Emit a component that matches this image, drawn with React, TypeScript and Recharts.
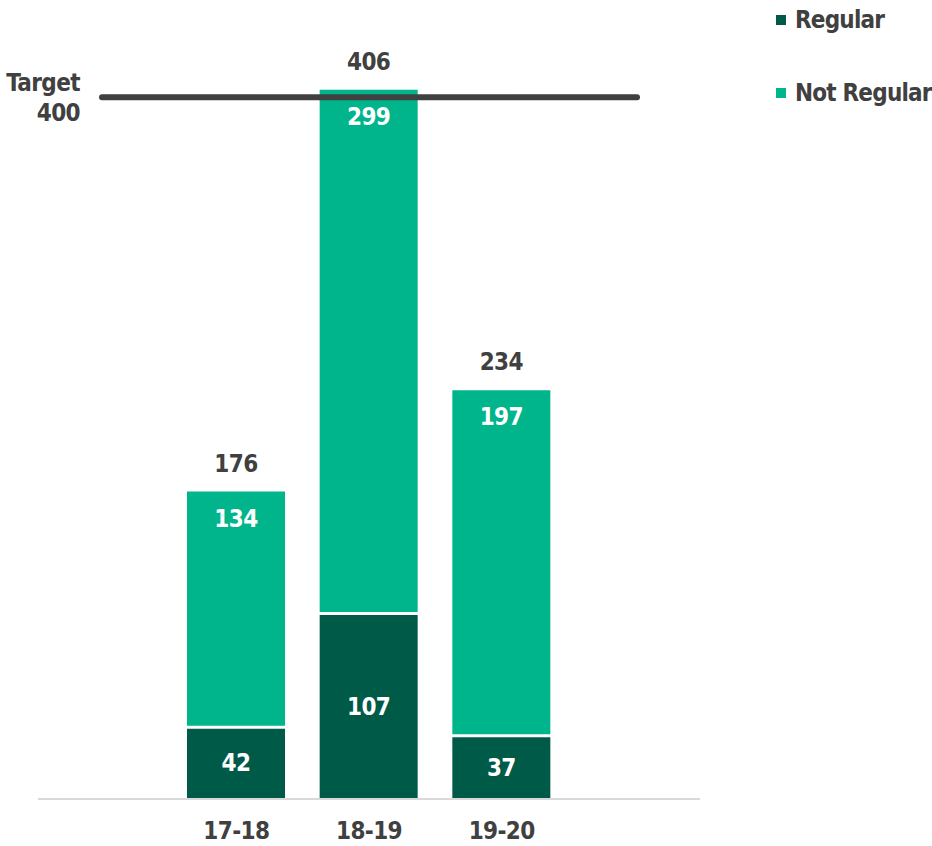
import { BarChart, Bar, XAxis, YAxis, ReferenceLine, LabelList, Rectangle } from "recharts";

const seasons = ["17-18", "18-19", "19-20"];
const regular = [42, 107, 37];
const notRegular = [134, 299, 197];
const target = 400;
const legendNames = ["Regular", "Not Regular"];

const DARK = "#005a48";
const LIGHT = "#00b48c";
const TEXT = "#404040";
const FONT = "'DejaVu Sans', sans-serif";

const data = seasons.map((s, i) => ({
  season: s,
  regular: regular[i],
  notRegular: notRegular[i],
  total: regular[i] + notRegular[i],
}));

const textStyle: any = {
  fontFamily: FONT,
  fontWeight: 700,
  fontSize: 24,
  fontStretch: "condensed",
  letterSpacing: -0.6,
};

const TargetLine = (props: any) => {
  const { x1, x2, y1 } = props;
  const left = x1 + 64;
  const right = x2 - 63;
  return (
    <g>
      <line x1={left} x2={right} y1={y1 - 3} y2={y1 - 3} stroke={TEXT} strokeWidth={6} strokeLinecap="round" />
      <text x={left - 22} y={y1 - 16} textAnchor="end" fill={TEXT} style={textStyle} dominantBaseline="middle">
        Target
      </text>
      <text x={left - 22} y={y1 + 14} textAnchor="end" fill={TEXT} style={textStyle} dominantBaseline="middle">
        {target}
      </text>
    </g>
  );
};

// dark segment with a white gap cut from its top
const RegularShape = (props: any) => {
  const { x, y, width, height } = props;
  return <Rectangle x={x} y={y + 3} width={width} height={Math.max(height - 3, 0)} fill={DARK} />;
};

const TotalLabel = (props: any) => {
  const { x, y, width, index } = props;
  return (
    <text x={x + width / 2} y={y - 27} textAnchor="middle" dominantBaseline="middle" fill={TEXT} style={textStyle}>
      {data[index].total}
    </text>
  );
};

const TopLabel = (props: any) => {
  const { x, y, width, value } = props;
  return (
    <text x={x + width / 2} y={y + 28} textAnchor="middle" dominantBaseline="middle" fill="#fff" style={textStyle}>
      {value}
    </text>
  );
};

const MidLabel = (props: any) => {
  const { x, y, width, height, value } = props;
  return (
    <text x={x + width / 2} y={y + height / 2 + 2} textAnchor="middle" dominantBaseline="middle" fill="#fff" style={textStyle}>
      {value}
    </text>
  );
};

const LegendBox = () => {
  const colors = [DARK, LIGHT];
  const tops = [20, 93];
  return (
    <div style={{ position: "absolute", left: 776, top: 0, width: 156, height: 120 }}>
      {legendNames.map((name, i) => (
        <div
          key={name}
          style={{ position: "absolute", left: 0, top: tops[i] - 14, display: "flex", alignItems: "center", whiteSpace: "nowrap" }}
        >
          <span style={{ width: 10, height: 10, background: colors[i], display: "inline-block", marginRight: 9 }} />
          <span style={{ ...textStyle, letterSpacing: -0.8, color: TEXT, lineHeight: "28px" }}>{name}</span>
        </div>
      ))}
    </div>
  );
};

export default function App() {
  return (
    <div style={{ position: "absolute", left: 0, top: 0, width: 932, height: 846, background: "#fff" }}>
      <BarChart width={932} height={846} data={data} margin={{ top: 13, right: 232, bottom: 17, left: 38 }} barSize={98}>
        <XAxis
          dataKey="season"
          padding={{ left: 132, right: 132 }}
          axisLine={{ stroke: "#d9d9d9", strokeWidth: 2 }}
          tickLine={false}
          tick={{ fill: TEXT, ...textStyle }}
          interval={0}
          dy={15}
        />
        <YAxis hide domain={[0, 450]} />
        <Bar dataKey="regular" stackId="a" fill={DARK} shape={<RegularShape />} isAnimationActive={false}>
          <LabelList dataKey="regular" content={<MidLabel />} />
        </Bar>
        <Bar dataKey="notRegular" stackId="a" fill={LIGHT} isAnimationActive={false}>
          <LabelList dataKey="notRegular" content={<TopLabel />} />
          <LabelList dataKey="total" content={<TotalLabel />} />
        </Bar>
        <ReferenceLine y={target} shape={<TargetLine />} ifOverflow="extendDomain" />
      </BarChart>
      <LegendBox />
    </div>
  );
}
